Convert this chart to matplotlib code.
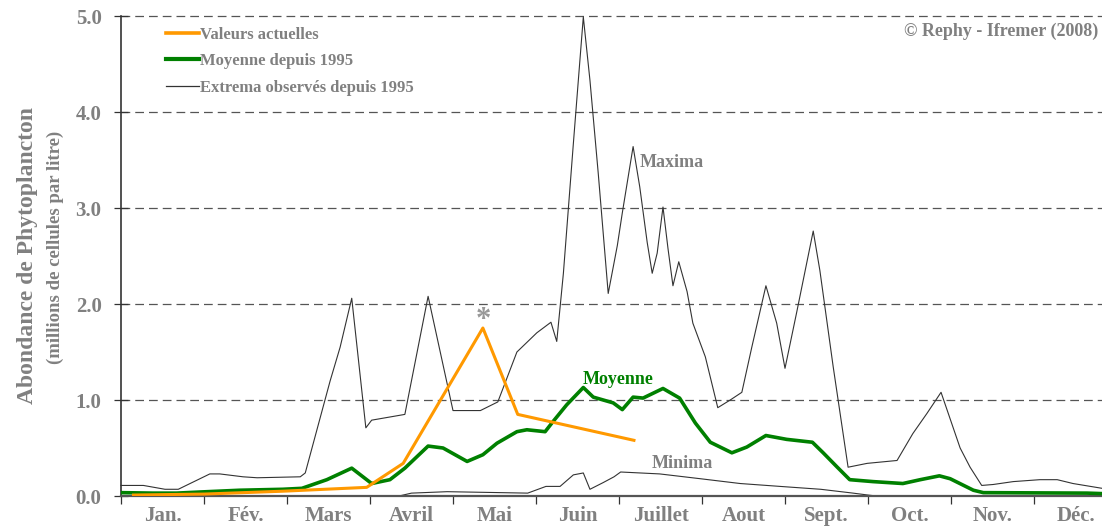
import matplotlib
matplotlib.use('Agg')
import matplotlib.pyplot as plt
from matplotlib.lines import Line2D

plt.rcParams['font.family'] = ['Liberation Serif', 'DejaVu Serif']
plt.rcParams['font.weight'] = 'bold'

GRIS = '#808080'
ORANGE = '#FF9900'
VERT = '#008000'

mois = ['Jan.', 'Fév.', 'Mars', 'Avril', 'Mai', 'Juin', 'Juillet', 'Aout',
        'Sept.', 'Oct.', 'Nov.', 'Déc.']

# abscisses en mois (0 = 1er janvier, 12 = 31 décembre)
max_x = [0.0, 0.27, 0.53, 0.69, 1.07, 1.19, 1.47, 1.64, 2.16, 2.22, 2.52, 2.64,
         2.78, 2.95, 3.02, 3.42, 3.70, 4.00, 4.33, 4.54, 4.77, 5.01, 5.18, 5.25,
         5.33, 5.45, 5.57, 5.65, 5.75, 5.87, 5.98, 6.04, 6.17, 6.25, 6.34, 6.40,
         6.46, 6.53, 6.59, 6.65, 6.72, 6.82, 6.89, 7.04, 7.19, 7.34, 7.48, 7.60,
         7.77, 7.90, 8.00, 8.14, 8.34, 8.42, 8.58, 8.76, 8.99, 9.35, 9.54, 9.71,
         9.88, 10.11, 10.23, 10.37, 10.51, 10.75, 11.07, 11.28, 11.47, 11.82, 12.0]
max_y = [0.11, 0.11, 0.07, 0.07, 0.23, 0.23, 0.20, 0.19, 0.20, 0.24, 1.20, 1.55,
         2.06, 0.71, 0.79, 0.85, 2.08, 0.89, 0.89, 0.98, 1.50, 1.70, 1.81, 1.61,
         2.32, 3.67, 4.99, 4.33, 3.36, 2.11, 2.61, 2.95, 3.64, 3.22, 2.64, 2.32,
         2.53, 3.01, 2.58, 2.19, 2.44, 2.13, 1.80, 1.45, 0.92, 1.00, 1.08, 1.55,
         2.19, 1.80, 1.33, 1.91, 2.76, 2.35, 1.35, 0.30, 0.34, 0.37, 0.65, 0.86,
         1.08, 0.50, 0.30, 0.11, 0.12, 0.15, 0.17, 0.17, 0.13, 0.08, 0.07]

moy_x = [0.0, 0.38, 0.67, 1.04, 1.43, 1.95, 2.18, 2.48, 2.78, 3.02, 3.24, 3.42,
         3.70, 3.88, 4.17, 4.36, 4.53, 4.77, 4.89, 5.11, 5.20, 5.37, 5.57, 5.69,
         5.93, 6.04, 6.17, 6.29, 6.53, 6.73, 6.92, 7.10, 7.36, 7.54, 7.77, 8.02,
         8.33, 8.46, 8.63, 8.78, 9.06, 9.42, 9.63, 9.86, 9.99, 10.27, 10.39,
         11.64, 12.0]
moy_y = [0.035, 0.03, 0.03, 0.045, 0.06, 0.07, 0.08, 0.17, 0.29, 0.13, 0.17, 0.29,
         0.52, 0.50, 0.36, 0.43, 0.55, 0.67, 0.69, 0.67, 0.77, 0.95, 1.13, 1.03,
         0.97, 0.90, 1.03, 1.02, 1.12, 1.02, 0.76, 0.56, 0.45, 0.51, 0.63, 0.59,
         0.56, 0.45, 0.30, 0.17, 0.15, 0.13, 0.17, 0.21, 0.18, 0.06, 0.035,
         0.03, 0.02]

min_x = [0.0, 3.35, 3.50, 3.93, 4.90, 5.12, 5.29, 5.45, 5.57, 5.65, 5.81, 5.94,
         6.02, 6.49, 6.98, 7.46, 7.94, 8.43, 8.82, 9.00, 9.10, 12.0]
min_y = [0.0, 0.0, 0.03, 0.045, 0.03, 0.10, 0.10, 0.22, 0.24, 0.07, 0.14, 0.20,
         0.25, 0.23, 0.18, 0.13, 0.10, 0.07, 0.03, 0.01, 0.0, 0.0]

act_x = [0.15, 1.0, 1.95, 2.96, 3.40, 4.36, 4.78, 6.18]
act_y = [0.01, 0.02, 0.05, 0.09, 0.34, 1.75, 0.85, 0.58]

fig = plt.figure(figsize=(11.02, 5.28), dpi=100)
ax = fig.add_axes([121/1102, 32/528, 996/1102, 480/528])

ax.plot(min_x, min_y, color='#333333', lw=0.8, clip_on=False)
ax.plot(max_x, max_y, color='#333333', lw=0.8, clip_on=False)
ax.plot(moy_x, moy_y, color=VERT, lw=2.6, zorder=3)
ax.plot(act_x, act_y, color=ORANGE, lw=2.2, zorder=4)

ax.set_xlim(0, 12)
ax.set_ylim(0, 5.0)

for v in [1, 2, 3, 4, 5]:
    ax.axhline(v, color='#555555', lw=0.9, dashes=(7, 4), zorder=1, clip_on=False)

for s in ['top', 'right']:
    ax.spines[s].set_visible(False)
ax.spines['left'].set_color('#333333')
ax.spines['left'].set_linewidth(1.2)
ax.spines['bottom'].set_color('#555555')
ax.spines['bottom'].set_linewidth(1.6)

ax.set_yticks([0, 1, 2, 3, 4, 5])
ax.set_yticklabels(['0.0', '1.0', '2.0', '3.0', '4.0', '5.0'])
ax.tick_params(axis='y', direction='inout', length=10, width=0.9, color='#333333',
               labelsize=15, labelcolor=GRIS, pad=9)

ax.set_xticks(range(13))
ax.set_xticklabels([])
ax.set_xticks([i + 0.5 for i in range(12)], minor=True)
ax.set_xticklabels(mois, minor=True)
ax.tick_params(axis='x', which='major', direction='out', length=6, width=0.9,
               color='#333333')
ax.tick_params(axis='x', which='minor', length=0, labelsize=15, labelcolor=GRIS, pad=7)

fig.text(28/1102, 1 - 255/528, 'Abondance de Phytoplancton', rotation=90,
         ha='center', va='center', fontsize=17, color=GRIS, fontweight='bold')
fig.text(55/1102, 1 - 247/528, '(millions de cellules par litre)', rotation=90,
         ha='center', va='center', fontsize=13.5, color=GRIS, fontweight='bold')

ax.text(6.64, 3.47, 'Maxima', ha='center', va='center', fontsize=13, color=GRIS)
ax.text(5.99, 1.21, 'Moyenne', ha='center', va='center', fontsize=13, color=VERT)
ax.text(6.76, 0.34, 'Minima', ha='center', va='center', fontsize=13, color=GRIS)
ax.text(4.36, 1.83, '*', ha='center', va='center', fontsize=22, color='#999999')

# dans l'original le texte déborde à droite ; on le garde entier
fig.text(1098/1102, 1 - 31/528, '© Rephy - Ifremer (2008)', ha='right', va='center',
         fontsize=13, color=GRIS)

poignees = [Line2D([], [], color=ORANGE, lw=2.6),
            Line2D([], [], color=VERT, lw=3.0),
            Line2D([], [], color='#333333', lw=0.9)]
noms = ['Valeurs actuelles', 'Moyenne depuis 1995', 'Extrema observés depuis 1995']
leg = ax.legend(poignees, noms, loc='upper left', bbox_to_anchor=(151/1102, 1 - 12/528),
                bbox_transform=fig.transFigure, frameon=False, fontsize=12,
                handlelength=2.0, handletextpad=0.05, labelspacing=0.62)
for t in leg.get_texts():
    t.set_color(GRIS)

fig.savefig('out.png', dpi=100)
